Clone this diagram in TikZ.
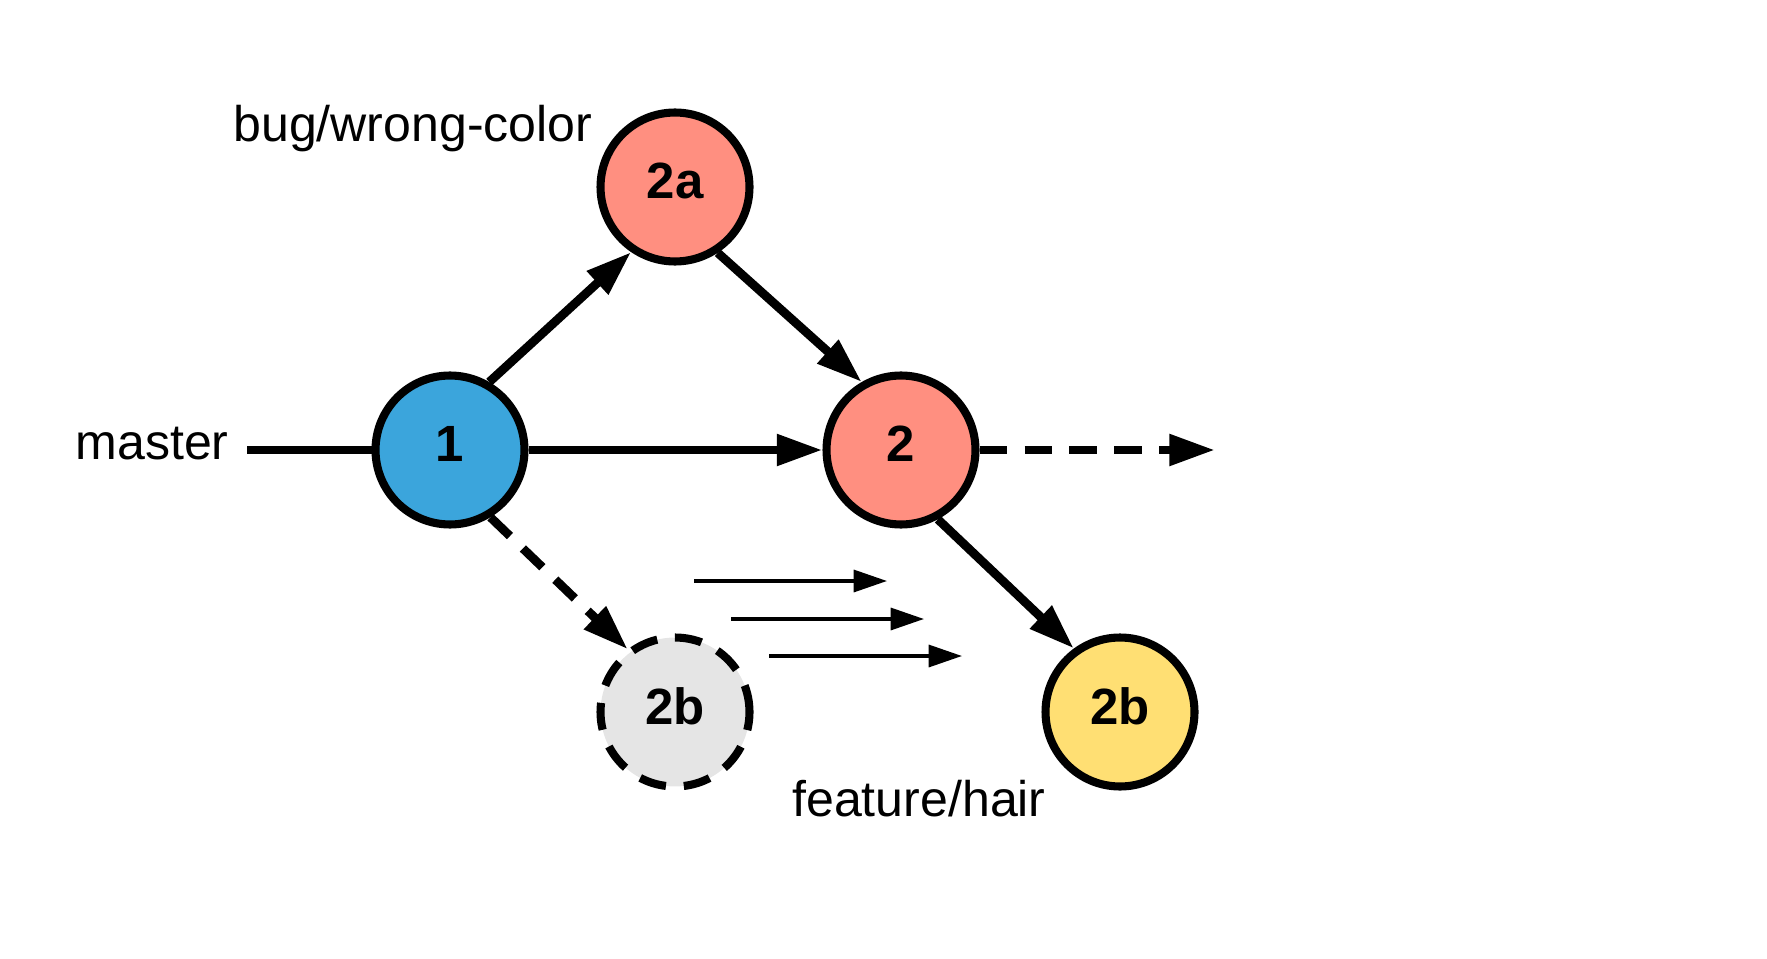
\documentclass[tikz,border=0pt]{standalone}
\usepackage{fontspec}
\setmainfont{Liberation Sans}
\usetikzlibrary{arrows.meta}
\usetikzlibrary{positioning}
\definecolor{commitblue}{RGB}{59,165,220}
\definecolor{commitred}{RGB}{255,143,128}
\definecolor{commityellow}{RGB}{255,223,115}
\definecolor{commitgrey}{RGB}{229,229,229}

\begin{document}
\begin{tikzpicture}[x=0.02cm, y=-0.02cm,
	commit/.style={circle, draw, line width=4.6pt, minimum size=2.98cm, inner sep=0pt, text depth=7pt, font=\fontsize{29}{33}\selectfont\bfseries},
	branch/.style={font=\fontsize{28.5}{34}\selectfont, inner sep=0pt},
	trunk/.style={line width=5pt},
	link/.style={trunk, -{Triangle[length=26pt, width=17pt]}},
	ghost/.style={dash pattern=on 15.4pt off 10.2pt},
	hint/.style={line width=2pt, -{Triangle[length=19pt, width=12.5pt]}}]
\useasboundingbox (0,0) rectangle (1767,959);
\coordinate (mstart) at (247,450);
\coordinate (fend) at (1215,450);
\draw[trunk] (mstart) -- (450,450);
\node[commit, fill=commitblue] (c1) at (450,450) {1};
\node[commit, fill=commitred] (c2) at (901,450) {2};
\node[commit, fill=commitred] (c2a) at (675,187) {2a};
\node[commit, fill=commitgrey, ghost] (c2bold) at (675,712) {2b};
\node[commit, fill=commityellow] (c2b) at (1120,712) {2b};

\draw[link] (c1) -- (c2);
\draw[link] (c1.60) -- (c2a.236);
\draw[link] (c2a.-57) -- (c2.120);
\draw[link] (c2.-62) -- (c2b.126);
\draw[link, ghost] (c1.-59) -- (c2bold.127);
\draw[link, ghost] (c2) -- (fend);

\foreach \i/\x/\y in {1/694/581, 2/731/619, 3/769/656} {
	\coordinate (h\i s) at (\x,\y);
	\coordinate (h\i e) at (\x+193,\y);
	\draw[hint] (h\i s) -- (h\i e);
	};

\node[branch, anchor=base east] (lmaster) at (229,459) {master};
\node[branch, anchor=base west] (lbug) at (233,142) {bug/wrong-color};
\node[branch, anchor=base west] (lfeature) at (792,816) {feature/hair};
\end{tikzpicture}
\end{document}
